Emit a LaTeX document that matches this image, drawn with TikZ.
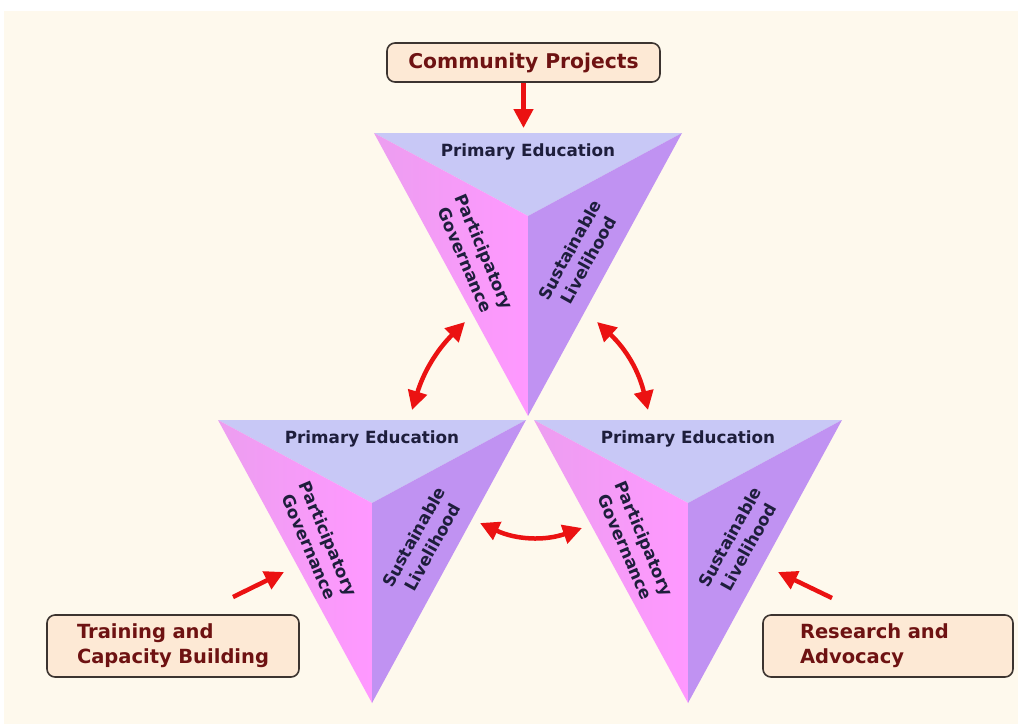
\documentclass[tikz,border=0pt]{standalone}
\usepackage{fontspec}
\usepackage{tikz}
\setmainfont{DejaVu Sans}
\usetikzlibrary{arrows.meta}
\usetikzlibrary{positioning}
\definecolor{paper}{RGB}{254, 249, 237}
\definecolor{boxfill}{RGB}{253, 233, 213}
\definecolor{boxline}{RGB}{60, 52, 48}
\definecolor{boxtext}{RGB}{110, 18, 18}
\definecolor{facetext}{RGB}{30, 30, 60}
\definecolor{topblue}{RGB}{200, 200, 246}
\definecolor{pinkout}{RGB}{236, 158, 240}
\definecolor{pinkin}{RGB}{255, 152, 255}
\definecolor{mpurple}{RGB}{192, 146, 242}
\definecolor{mred}{RGB}{235, 18, 18}
\tikzset{prog/.style = {draw=boxline, line width=1.6pt, fill=boxfill, rounded corners=8pt,
                        text=boxtext, inner sep=0, minimum height=39,
                        font=\fontsize{19.5}{25}\selectfont\bfseries}}
\tikzset{face/.style = {text=facetext, inner sep=0, align=center,
                        font=\fontsize{16.8}{21}\selectfont\bfseries}}
\tikzset{redarr/.style = {draw=mred, line width=4.5pt,
                          >={Triangle[length=19pt, width=19pt]}}}

\begin{document}
\begin{tikzpicture}[x=1pt, y=-1pt]
      \useasboundingbox (0, 0) rectangle (1018, 724);
      \fill [white] (0, 0) rectangle (1018, 724);
      \fill [paper] (4, 11) rectangle (1018, 724);

      % the three pyramids
      \foreach \n/\x/\y in {t/528/133, l/372/420, r/688/420} {
        \coordinate (\n-a) at ({\x-154}, \y);
        \coordinate (\n-b) at ({\x+154}, \y);
        \coordinate (\n-c) at (\x, {\y+283});
        \coordinate (\n-o) at (\x, {\y+83});
        \fill [topblue] (\n-a) -- (\n-b) -- (\n-o) -- cycle;
        \shade [left color=pinkout, right color=pinkin] (\n-a) -- (\n-o) -- (\n-c) -- cycle;
        \fill [mpurple] (\n-b) -- (\n-o) -- (\n-c) -- cycle;
        \node [face] (pe-\n) at (\x, {\y+19}) {Primary Education};
        \node [face, rotate=-67] (pg-\n) at ({\x-53}, {\y+123}) {Participatory\\Governance};
        \node [face, rotate=61] (sl-\n) at ({\x+51}, {\y+122}) {Sustainable\\Livelihood};
      }

      \node [prog, minimum width=273, font=\fontsize{20.3}{25}\selectfont\bfseries] (cp) at (523.5, 62.5) {Community Projects};
      \node [prog, minimum width=252, minimum height=62, text width=192, align=left] (tc) at (173, 646) {Training and\\Capacity Building};
      \node [prog, minimum width=250, minimum height=62, text width=176, align=left] (ra) at (888, 646) {Research and\\Advocacy};

      \coordinate (tc-tail) at (233, 597);
      \coordinate (tc-tip) at (284, 572);
      \coordinate (ra-tail) at (832, 598);
      \coordinate (ra-tip) at (778, 572);
      \coordinate (tl-1) at (412, 410);
      \coordinate (tl-2) at (465, 322);
      \coordinate (tr-1) at (597, 322);
      \coordinate (tr-2) at (648, 410);
      \coordinate (lr-1) at (480, 523);
      \coordinate (lr-2) at (582, 528);

      \draw [redarr, ->, shorten >=5pt] (cp.south) -- (cp.south |- t-a);
      \draw [redarr, ->] (tc-tail) -- (tc-tip);
      \draw [redarr, ->] (ra-tail) -- (ra-tip);
      \draw [redarr, <->] (tl-1) to [bend left=14] (tl-2);
      \draw [redarr, <->] (tr-1) to [bend left=17] (tr-2);
      \draw [redarr, <->] (lr-1) to [bend right=22] (lr-2);
    \end{tikzpicture}
\end{document}
